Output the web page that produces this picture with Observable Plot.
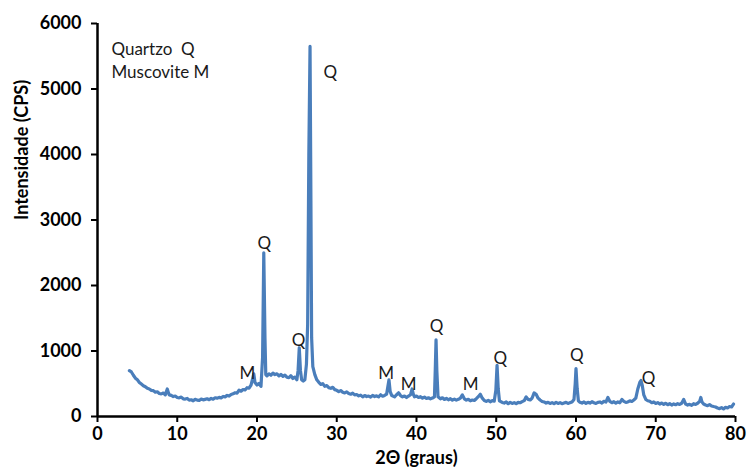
<!DOCTYPE html>
<html>
<head>
<meta charset="utf-8">
<script src="https://cdn.jsdelivr.net/npm/d3@7"></script>
<script src="https://cdn.jsdelivr.net/npm/@observablehq/plot@0.6"></script>
<style>
  html, body { margin: 0; padding: 0; background: #fff; }
</style>
</head>
<body>
<div id="chart"></div>
<script>
// X-ray diffraction scan: [2θ (degrees), intensity (CPS)]
const scanA = [
  [4.00,700],[4.25,680],[4.50,630],[4.75,585],[5.00,560],[5.25,520],[5.50,495],[5.75,470],
  [6.00,455],[6.25,430],[6.50,420],[6.75,400],[7.00,395],[7.25,370],[7.50,378],[7.75,352],
  [8.00,345],[8.25,358],[8.50,330],[8.75,420],[8.90,360],[9.00,330],[9.25,322],[9.50,305],
  [9.75,312],[10.00,290],[10.25,285],[10.50,296],[10.75,270],[11.00,266],[11.25,276],[11.50,250],
  [11.75,256],[12.00,240],[12.25,262],[12.50,250],[12.75,245],[13.00,266],[13.25,254],[13.50,262],
  [13.75,270],[14.00,256],[14.25,276],[14.50,265],[14.75,286],[15.00,280],[15.25,292],[15.50,285],
  [15.75,306],[16.00,300],[16.25,322],[16.50,312],[16.75,336],[17.00,346],[17.25,362],[17.50,356],
  [17.75,402],[18.00,386],[18.25,412],[18.50,405],[18.75,440],[19.00,432],[19.25,480],[19.50,600],
  [19.60,650],[19.75,520],[20.00,480],[20.25,505],[20.50,460]
];
const scanB = [
  [20.70,900],[20.85,2500],[21.00,1200],[21.10,640],[21.25,620],[21.50,652],[21.75,630],[22.00,662],
  [22.25,640],[22.50,652],[22.75,620],[23.00,642],[23.25,612],[23.50,632],[23.75,600],[24.00,592],
  [24.25,622],[24.50,580],[24.75,602],[25.00,560],[25.15,700],[25.30,1050],[25.45,700],[25.60,560],
  [25.80,540],[26.00,560],[26.20,800],[26.35,1400],[26.50,4000],[26.65,5650],[26.75,3500],[26.85,1200],
  [27.00,760],[27.25,640],[27.50,560],[27.75,522],[28.00,490],[28.25,502],[28.50,460],[28.75,472],
  [29.00,440],[29.25,430],[29.50,446],[29.75,410]
];
const scanC = [
  [30.00,400],[30.25,380],[30.50,396],[30.75,370],[31.00,360],[31.25,376],[31.50,350],[31.75,340],
  [32.00,356],[32.25,330],[32.50,336],[32.75,315],[33.00,326],[33.25,300],[33.50,320],[33.75,305],
  [34.00,312],[34.25,295],[34.50,322],[34.75,305],[35.00,316],[35.25,300],[35.50,332],[35.75,310],
  [36.00,322],[36.25,340],[36.40,450],[36.55,560],[36.70,380],[36.90,320],[37.25,300],[37.50,332],
  [37.75,362],[38.00,320],[38.25,300],[38.50,312],[38.75,290],[39.00,312],[39.25,332],[39.45,420],
  [39.60,340],[39.75,300],[40.00,312],[40.25,290],[40.50,302],[40.75,280],[41.00,296],[41.25,275],
  [41.50,286],[41.75,270],[42.00,282],[42.25,300],[42.35,700],[42.45,1170],[42.55,700],[42.70,300],
  [43.00,270],[43.25,286],[43.50,260],[43.75,276],[44.00,255],[44.25,272],[44.50,250],[44.75,266],
  [45.00,250],[45.25,262],[45.50,280],[45.75,330],[46.00,270],[46.25,250],[46.50,262],[46.75,240],
  [47.00,252],[47.25,245],[47.50,272],[47.75,302],[48.00,340],[48.25,280],[48.50,245],[48.75,230],
  [49.00,246],[49.25,225],[49.50,242],[49.75,235]
];
const scanD = [
  [49.95,400],[50.10,780],[50.25,420],[50.40,240],[50.75,215],[51.00,205],[51.25,222],[51.50,195],
  [51.75,216],[52.00,200],[52.25,212],[52.50,195],[52.75,216],[53.00,210],[53.25,226],[53.50,242],
  [53.75,300],[54.00,260],[54.25,252],[54.50,282],[54.75,360],[55.00,340],[55.25,280],[55.50,252],
  [55.75,230],[56.00,222],[56.25,205],[56.50,216],[56.75,200],[57.00,212],[57.25,195],[57.50,216],
  [57.75,200],[58.00,212],[58.25,195],[58.50,206],[58.75,216],[59.00,200],[59.25,212],[59.50,222],
  [59.75,260],[59.90,500],[60.00,730],[60.15,420],[60.30,240],[60.50,216],[60.75,205],[61.00,222],
  [61.25,200],[61.50,216],[61.75,205],[62.00,226],[62.25,210],[62.50,200],[62.75,216],[63.00,222],
  [63.25,205],[63.50,232],[63.75,220],[64.00,290],[64.25,230],[64.50,210],[64.75,226],[65.00,205],
  [65.25,222],[65.50,210],[65.75,260],[66.00,230],[66.25,215],[66.50,222],[66.75,240],[67.00,230],
  [67.25,252],[67.50,280],[67.75,420],[68.00,520],[68.15,550],[68.30,480],[68.50,330],[68.75,260],
  [69.00,240],[69.25,232],[69.50,210],[69.75,222],[70.00,200],[70.25,212],[70.50,190],[70.75,206],
  [71.00,185],[71.25,202],[71.50,180],[71.75,196],[72.00,175],[72.25,192],[72.50,180],[72.75,196],
  [73.00,185],[73.25,202],[73.50,260],[73.75,190],[74.00,175],[74.25,186],[74.50,170],[74.75,196],
  [75.00,185],[75.25,202],[75.50,230],[75.65,290],[75.80,220],[76.00,190],[76.25,176],[76.50,165],
  [76.75,182],[77.00,160],[77.25,152],[77.50,145],[77.75,130],[78.00,120],[78.25,136],[78.50,115],
  [78.75,140],[79.00,130],[79.25,152],[79.50,145],[79.75,190]
];

// Peak annotations (phase letter, 2θ, intensity)
const peakLabels = ["Q","Q","Q","M","M","M","M","Q","Q","Q","Q"];
const peakX      = [29.2, 20.9, 25.2, 18.8, 36.2, 39.0, 46.8, 42.5, 50.5, 60.1, 69.1];
const peakY      = [5250, 2640, 1160, 660, 660, 490, 490, 1375, 885, 930, 580];

// Legend lines
const legendText = ["Quartzo  Q", "Muscovite M"];
const legendY    = [5600, 5250];

const xTicks = [0, 10, 20, 30, 40, 50, 60, 70, 80];
const yTicks = [0, 1000, 2000, 3000, 4000, 5000, 6000];
const xTitle = "2Θ (graus)";
const yTitle = "Intensidade (CPS)";

const scan = [...scanA, ...scanB, ...scanC, ...scanD];

const chart = Plot.plot({
  width: 747,
  height: 468,
  marginLeft: 97,
  marginRight: 12,
  marginTop: 23,
  marginBottom: 52,
  style: {fontFamily: "Lato, 'Open Sans', sans-serif", fontSize: "18px", fontWeight: "bold", color: "#000", background: "#fff"},
  x: {domain: [0, 80], label: null},
  y: {domain: [0, 6000], label: null},
  marks: [
    Plot.axisX({ticks: xTicks, tickSize: 6, tickPadding: 5, strokeWidth: 2, label: null, tickFormat: d => String(d)}),
    Plot.axisY({ticks: yTicks, tickSize: 6, tickPadding: 10, strokeWidth: 2, label: null, tickFormat: d => String(d)}),
    Plot.line(scan, {x: d => d[0], y: d => d[1], stroke: "#4a7ebb", strokeWidth: 3.2, strokeLinejoin: "round"}),
    Plot.ruleX([0], {stroke: "#000", strokeWidth: 2.5}),
    Plot.ruleY([0], {stroke: "#000", strokeWidth: 2.5}),
    Plot.text(peakLabels, {x: (d, i) => peakX[i], y: (d, i) => peakY[i], text: d => d, fontSize: 17, fontWeight: "normal", fill: "#1a1a1a", textAnchor: "middle", lineAnchor: "middle"}),
    Plot.text(legendText, {x: () => 1.75, y: (d, i) => legendY[i], text: d => d, fontSize: 17, fontWeight: "normal", fill: "#1a1a1a", textAnchor: "start", lineAnchor: "middle"}),
    Plot.text([xTitle], {frameAnchor: "bottom", dy: 42, text: d => d, fontSize: 18, fontWeight: "bold", lineAnchor: "middle"}),
    Plot.text([yTitle], {frameAnchor: "left", dx: -75, rotate: -90, text: d => d, fontSize: 18, fontWeight: "bold", lineAnchor: "middle"})
  ]
});
document.getElementById("chart").appendChild(chart);
</script>
</body>
</html>
